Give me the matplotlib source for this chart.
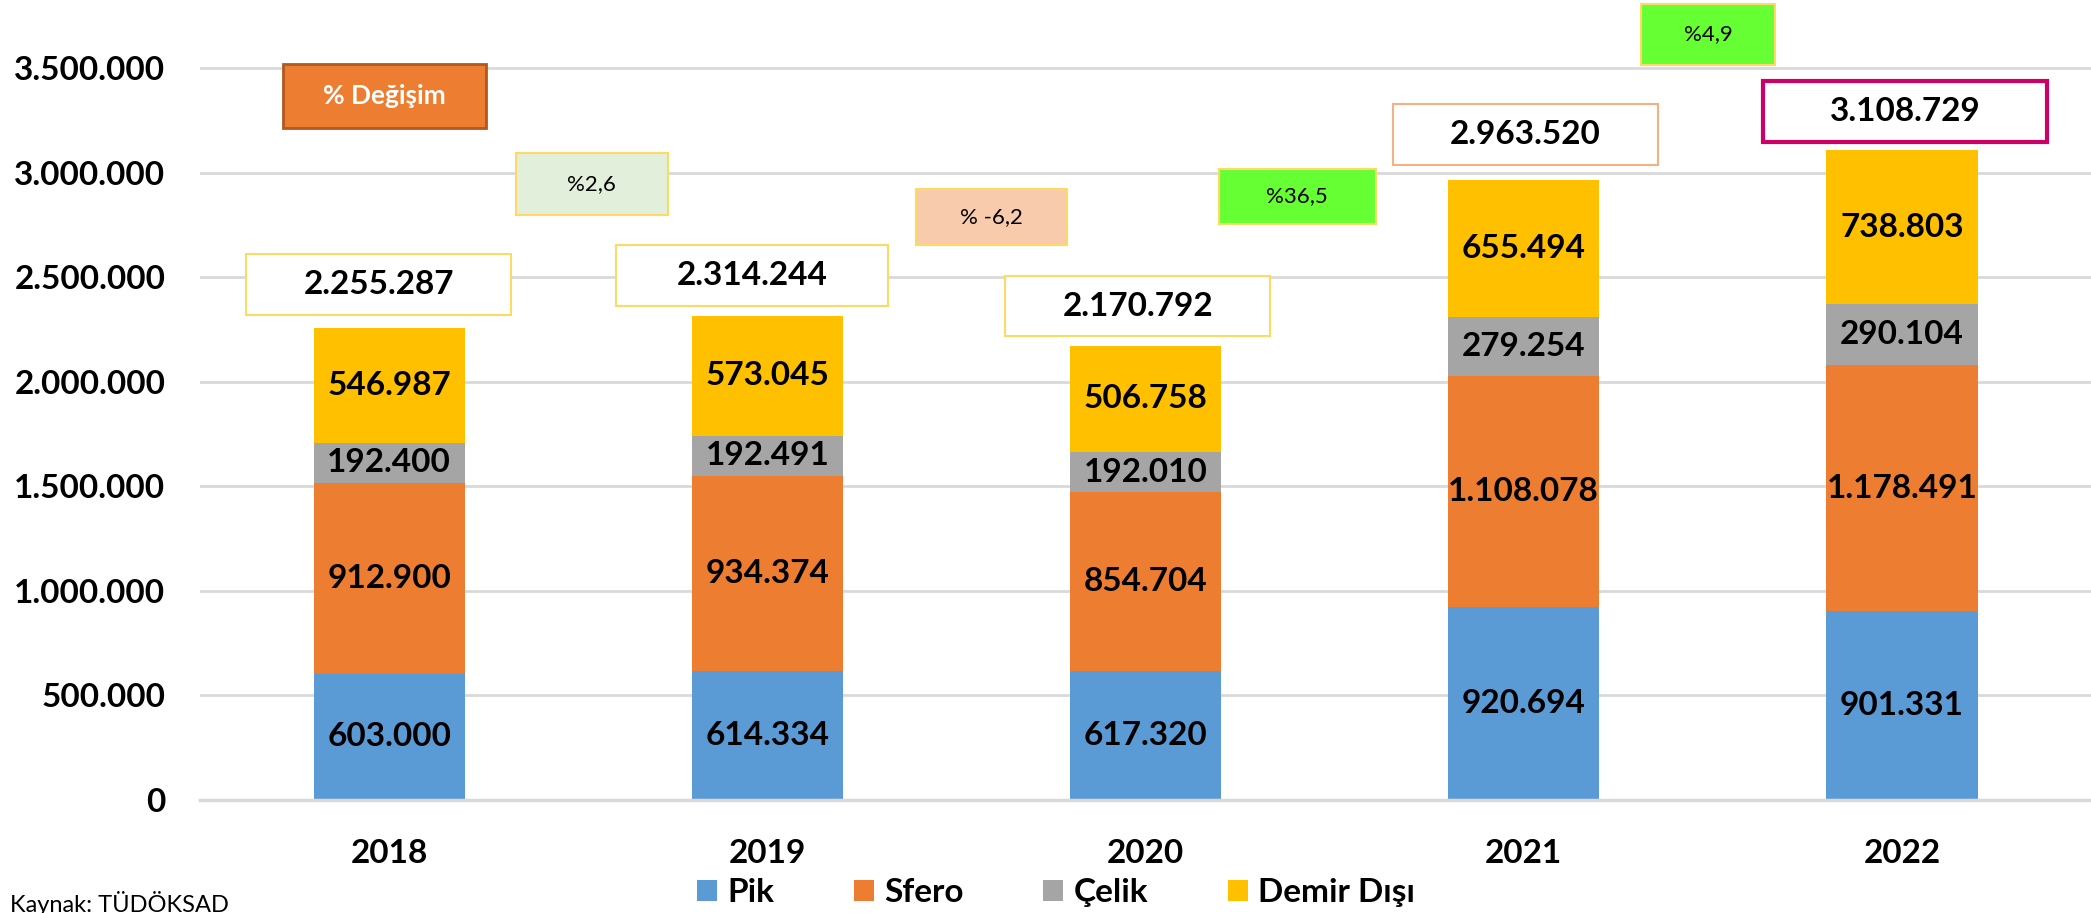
import matplotlib.pyplot as plt
from matplotlib.patches import Rectangle

plt.rcParams['font.family'] = ['Lato', 'DejaVu Sans']

years = ['2018', '2019', '2020', '2021', '2022']
pik = [603000, 614334, 617320, 920694, 901331]
sfero = [912900, 934374, 854704, 1108078, 1178491]
celik = [192400, 192491, 192010, 279254, 290104]
demir_disi = [546987, 573045, 506758, 655494, 738803]
series_names = ['Pik', 'Sfero', 'Çelik', 'Demir Dışı']
pct_labels = ['%2,6', '% -6,2', '%36,5', '%4,9']

colors = ['#5B9BD5', '#ED7D31', '#A5A5A5', '#FFC000']


def fmt(v):
    return f'{v:,}'.replace(',', '.')


fig = plt.figure(figsize=(20.91, 9.13), dpi=100)
ax = fig.add_axes([0.0957, 0.1238, 0.9043, 0.8762])

x = list(range(len(years)))
bottom = [0] * len(years)
for name, vals, c in zip(series_names, [pik, sfero, celik, demir_disi], colors):
    bars = ax.bar(x, vals, width=0.4, bottom=bottom, color=c, label=name, zorder=2)
    ax.bar_label(bars, labels=[fmt(v) for v in vals], label_type='center',
                 fontsize=24, fontweight='bold', color='black')
    bottom = [b + v for b, v in zip(bottom, vals)]

totals = bottom

# toplam kutulari: (x kayma, y kayma, genislik, kenar rengi, cizgi)
total_boxes = [(-0.028, 208000, 0.70, '#FFD966', 1.5),
               (-0.040, 194000, 0.72, '#FFD966', 1.5),
               (-0.021, 191000, 0.70, '#FFD966', 1.5),
               (0.005, 218000, 0.70, '#F4B183', 1.5),
               (0.008, 182000, 0.75, '#CC0066', 3)]
for i, t in enumerate(totals):
    dx, dy, w, ec, lw = total_boxes[i]
    cx, cy = i + dx, t + dy
    ax.add_patch(Rectangle((cx - w / 2, cy - 145000), w, 290000, facecolor='white',
                           edgecolor=ec, lw=lw, zorder=3))
    ax.text(cx, cy, fmt(t), ha='center', va='center', fontsize=24,
            fontweight='bold', zorder=4)

# % degisim kutulari: (x, y, w, h, fill)
pct_boxes = [(0.536, 2945000, 0.40, 296000, '#E2EFDA'),
             (1.593, 2788000, 0.40, 268000, '#F8CBAD'),
             (2.401, 2886000, 0.415, 263000, '#66FF33'),
             (3.487, 3660000, 0.355, 292000, '#66FF33')]
for lab, (bx, by, bw, bh, fc) in zip(pct_labels, pct_boxes):
    ax.add_patch(Rectangle((bx - bw / 2, by - bh / 2), bw, bh, facecolor=fc,
                           edgecolor='#FFD966', lw=1.5, zorder=3, clip_on=False))
    ax.text(bx, by, lab, ha='center', va='center', fontsize=16, zorder=4)

ax.add_patch(Rectangle((-0.012 - 0.2685, 3366000 - 153000), 0.537, 306000,
                       facecolor='#ED7D31', edgecolor='#AE5A21', lw=2, zorder=3))
ax.text(-0.012, 3366000, '% Değişim', ha='center', va='center', fontsize=19,
        fontweight='bold', color='white', zorder=4)

ax.set_xlim(-0.5, 4.5)
ax.set_ylim(0, 3825000)
ax.set_yticks(range(0, 3500001, 500000))
ax.set_yticklabels([fmt(v) for v in range(0, 3500001, 500000)], fontsize=24,
                   fontweight='bold')
ax.set_xticks(x)
ax.set_xticklabels(years, fontsize=24, fontweight='bold')
ax.tick_params(axis='both', length=0)
ax.tick_params(axis='y', pad=25)
ax.tick_params(axis='x', pad=28)
ax.grid(axis='y', color='#D9D9D9', lw=2, zorder=0)
for s in ['top', 'right', 'left']:
    ax.spines[s].set_visible(False)
ax.spines['bottom'].set_color('#D9D9D9')
ax.spines['bottom'].set_linewidth(2.5)

fig.legend(loc='center', bbox_to_anchor=(0.505, 0.022), ncol=4, frameon=False,
           prop={'size': 24, 'weight': 'bold'}, handlelength=0.6, handleheight=0.6,
           handletextpad=0.3, columnspacing=2.4)

fig.text(0.005, 0.010, 'Kaynak: TÜDÖKSAD', fontsize=17, va='center', ha='left')

fig.savefig('out.png', dpi=100)
